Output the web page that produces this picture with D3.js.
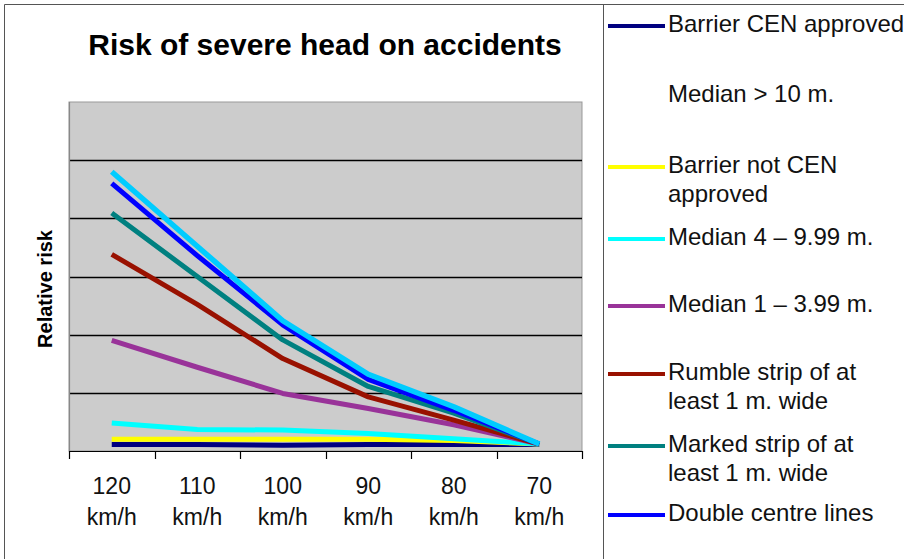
<!DOCTYPE html>
<html>
<head>
<meta charset="utf-8">
<script src="https://cdn.jsdelivr.net/npm/d3@7"></script>
<style>
  html, body { margin: 0; padding: 0; background: #ffffff; }
  svg { display: block; font-family: "Liberation Sans", Arial, sans-serif; }
</style>
</head>
<body>
<svg id="chart" width="904" height="559"></svg>
<script>
// ---- data ----
const categories = ["120 km/h", "110 km/h", "100 km/h", "90 km/h", "80 km/h", "70 km/h"];
const yTicks = [1, 2, 3, 4, 5];

const barrierCEN     = [0.11, 0.11, 0.10, 0.11, 0.11, 0.11];
const barrierNotCEN  = [0.20, 0.20, 0.20, 0.20, 0.18, 0.12];
const median4to10    = [0.48, 0.37, 0.36, 0.30, 0.21, 0.12];
const median1to4     = [1.90, 1.44, 0.99, 0.73, 0.45, 0.12];
const rumbleStrip    = [3.38, 2.52, 1.59, 0.93, 0.53, 0.12];
const markedStrip    = [4.09, 3.00, 1.91, 1.11, 0.65, 0.12];
const doubleCentre   = [4.60, 3.36, 2.17, 1.23, 0.70, 0.12];
const unlabelledTop  = [4.80, 3.52, 2.24, 1.32, 0.76, 0.12];

const seriesNames  = ["Barrier CEN approved", "Barrier not CEN approved", "Median 4 – 9.99 m.", "Median 1 – 3.99 m.",
                      "Rumble strip of at least 1 m. wide", "Marked strip of at least 1 m. wide", "Double centre lines", "(top series)"];
const seriesValues = [barrierCEN, barrierNotCEN, median4to10, median1to4, rumbleStrip, markedStrip, doubleCentre, unlabelledTop];
const seriesColors = ["#000080", "#FFFF00", "#00FFFF", "#993399", "#991100", "#008080", "#0000FF", "#00CCFF"];

const legendLabels = [["Barrier CEN approved"], ["Median > 10 m."], ["Barrier not CEN", "approved"], ["Median 4 – 9.99 m."],
                      ["Median 1 – 3.99 m."], ["Rumble strip of at", "least 1 m. wide"], ["Marked strip of at", "least 1 m. wide"], ["Double centre lines"]];
const legendColors = ["#000080", "#FFFFFF", "#FFFF00", "#00FFFF", "#993399", "#991100", "#008080", "#0000FF"];
const legendBaselines = [32, 102, 173, 245, 312, 380, 452, 521];

// ---- layout ----
const svg = d3.select("#chart");
const plot = { left: 69, right: 582, top: 102, bottom: 451 };

// outer frame
svg.append("path")
  .attr("d", "M4.5,560 V4.5 H905")
  .attr("fill", "none").attr("stroke", "#555").attr("stroke-width", 1);
svg.append("line")
  .attr("x1", 603.5).attr("x2", 603.5).attr("y1", 4).attr("y2", 560)
  .attr("stroke", "#555").attr("stroke-width", 1);

// title
svg.append("text")
  .attr("x", 325).attr("y", 55)
  .attr("text-anchor", "middle")
  .attr("font-size", 30).attr("font-weight", "bold").attr("fill", "#000")
  .text("Risk of severe head on accidents");

// y title
svg.append("text")
  .attr("transform", "translate(52,289) rotate(-90)")
  .attr("text-anchor", "middle")
  .attr("font-size", 20).attr("font-weight", "bold").attr("fill", "#000")
  .text("Relative risk");

// scales
const x = d3.scaleBand().domain(categories).range([plot.left, plot.right]).paddingInner(0).paddingOuter(0);
const y = d3.scaleLinear().domain([0, 6]).range([plot.bottom, plot.top]);

// plot background
svg.append("rect")
  .attr("x", plot.left).attr("y", plot.top)
  .attr("width", plot.right - plot.left).attr("height", plot.bottom - plot.top)
  .attr("fill", "#CCCCCC").attr("stroke", "#999").attr("stroke-width", 1);

// gridlines
svg.append("g").selectAll("line").data(yTicks).join("line")
  .attr("x1", plot.left).attr("x2", plot.right)
  .attr("y1", d => Math.round(y(d)) + 0.5).attr("y2", d => Math.round(y(d)) + 0.5)
  .attr("stroke", "#000").attr("stroke-width", 1.3);

// y-axis line
svg.append("line")
  .attr("x1", plot.left + 0.5).attr("x2", plot.left + 0.5)
  .attr("y1", plot.top).attr("y2", plot.bottom)
  .attr("stroke", "#888").attr("stroke-width", 1.2);

// x axis: ticks at band boundaries
const boundaries = categories.map(c => x(c)).concat([plot.right]);
svg.append("line")
  .attr("x1", plot.left).attr("x2", plot.right)
  .attr("y1", plot.bottom + 0.5).attr("y2", plot.bottom + 0.5)
  .attr("stroke", "#000").attr("stroke-width", 1.2);
svg.append("g").selectAll("line").data(boundaries).join("line")
  .attr("x1", d => Math.round(d) + 0.5).attr("x2", d => Math.round(d) + 0.5)
  .attr("y1", plot.bottom).attr("y2", plot.bottom + 8)
  .attr("stroke", "#000").attr("stroke-width", 1.2);

// x labels
const xl = svg.append("g").selectAll("text").data(categories).join("text")
  .attr("x", d => x(d) + x.bandwidth() / 2)
  .attr("y", 494)
  .attr("text-anchor", "middle")
  .attr("font-size", 23).attr("fill", "#111");
xl.each(function(d) {
  const parts = d.split(" ");
  const t = d3.select(this);
  const cx = x(d) + x.bandwidth() / 2;
  t.append("tspan").attr("x", cx).attr("dy", 0).text(parts[0]);
  t.append("tspan").attr("x", cx).attr("dy", 31).text(parts[1]);
});

// lines
const line = d3.line()
  .x((d, i) => x(categories[i]) + x.bandwidth() / 2)
  .y(d => y(d));

svg.append("g").selectAll("path").data(seriesValues).join("path")
  .attr("d", d => line(d))
  .attr("fill", "none")
  .attr("stroke", (d, i) => seriesColors[i])
  .attr("stroke-width", (d, i) => i === 7 ? 5.5 : 5)
  .attr("stroke-linejoin", "round");

// legend
const lg = svg.append("g");
legendLabels.forEach((lines, i) => {
  const b = legendBaselines[i];
  lg.append("line")
    .attr("x1", 608).attr("x2", 665)
    .attr("y1", b - 6).attr("y2", b - 6)
    .attr("stroke", legendColors[i]).attr("stroke-width", 4);
  const t = lg.append("text")
    .attr("x", 668).attr("y", b)
    .attr("font-size", 24).attr("fill", "#111");
  lines.forEach((s, j) => {
    t.append("tspan").attr("x", 668).attr("dy", j === 0 ? 0 : 29).text(s);
  });
});
</script>
</body>
</html>
